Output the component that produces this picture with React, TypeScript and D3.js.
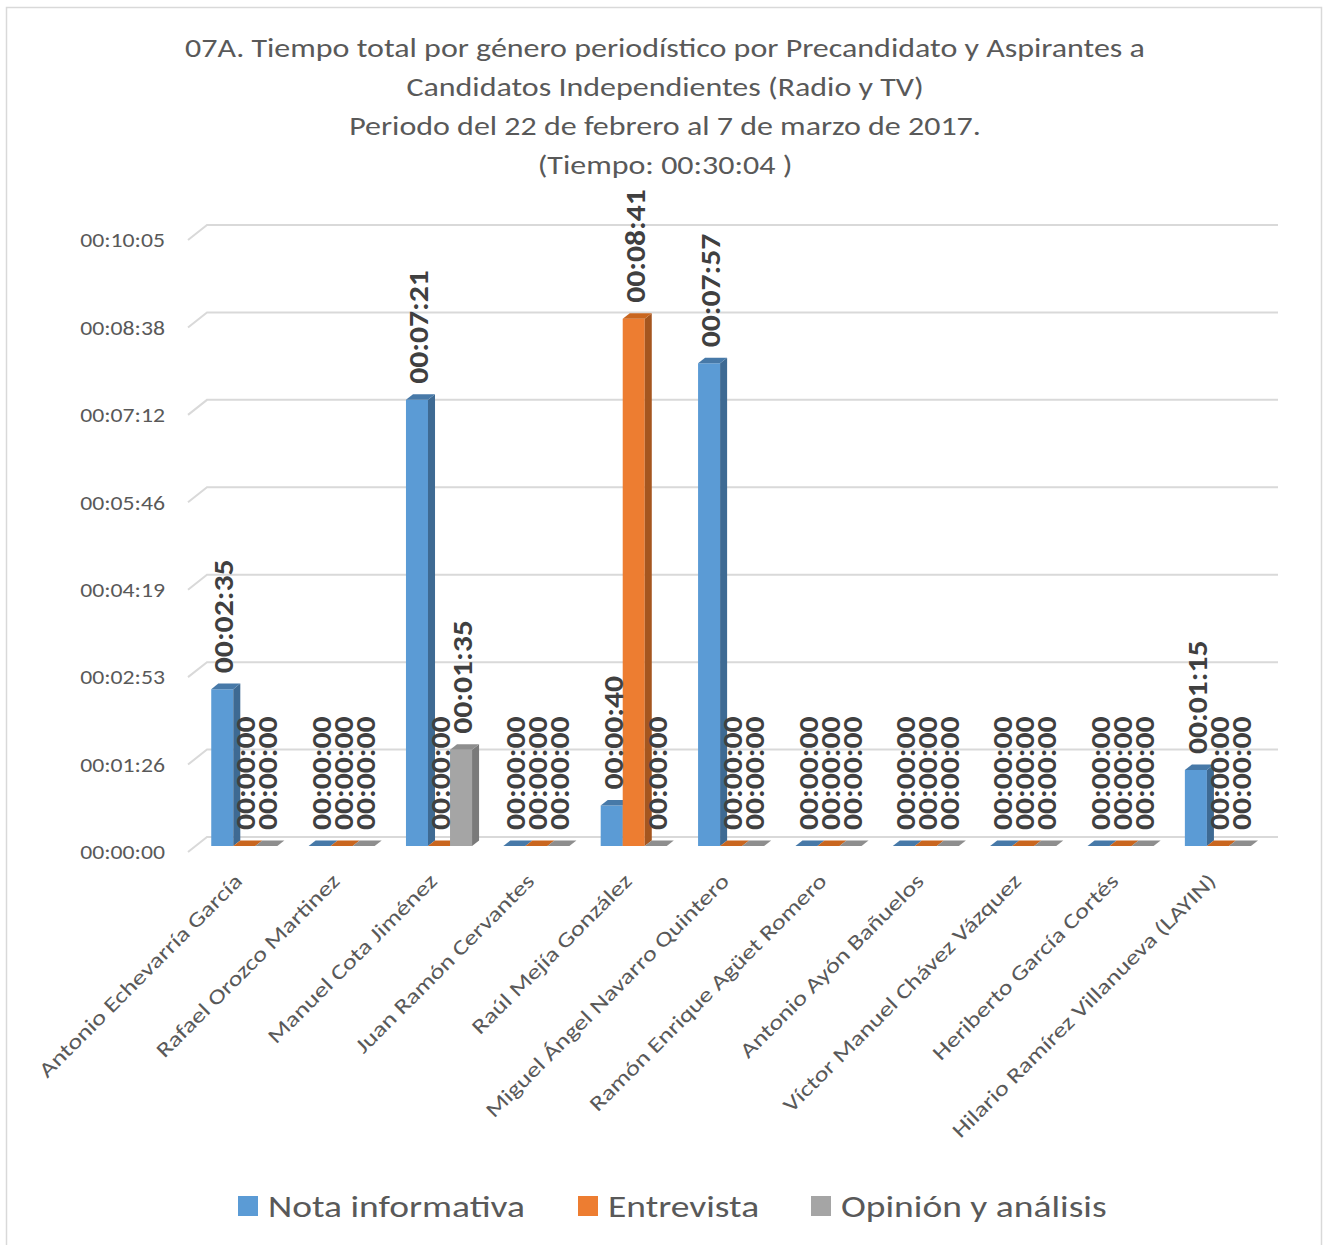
import React from "react";
import * as d3 from "d3";

const categories = [
  "Antonio Echevarría García",
  "Rafael Orozco Martinez",
  "Manuel Cota Jiménez",
  "Juan Ramón Cervantes",
  "Raúl Mejía González",
  "Miguel Ángel Navarro Quintero",
  "Ramón Enrique Agüet Romero",
  "Antonio Ayón Bañuelos",
  "Víctor Manuel Chávez Vázquez",
  "Heriberto García Cortés",
  "Hilario Ramírez Villanueva (LAYIN)",
];

// seconds
const notaInformativa = [155, 0, 441, 0, 40, 477, 0, 0, 0, 0, 75];
const entrevista = [0, 0, 0, 0, 521, 0, 0, 0, 0, 0, 0];
const opinionAnalisis = [0, 0, 95, 0, 0, 0, 0, 0, 0, 0, 0];

const seriesNames = ["Nota informativa", "Entrevista", "Opinión y análisis"];
const seriesValues = [notaInformativa, entrevista, opinionAnalisis];

const yTickValues = [0, 86.4, 172.8, 259.2, 345.6, 432, 518.4, 604.8];
const yTickLabels = ["00:00:00", "00:01:26", "00:02:53", "00:04:19", "00:05:46", "00:07:12", "00:08:38", "00:10:05"];

const titleLines = [
  "07A. Tiempo total por género periodístico por Precandidato y Aspirantes a",
  "Candidatos Independientes (Radio y TV)",
  "Periodo del 22 de febrero al 7 de marzo de 2017.",
  "(Tiempo: 00:30:04 )",
];

const FRONT = ["#5B9BD5", "#ED7D31", "#A5A5A5"];
const SIDE = ["#3E6A93", "#A5561F", "#7A7A7A"];
const TOP = ["#4779A8", "#C9661F", "#8E8E8E"];

const FONT = "Carlito, Calibri, Lato, sans-serif";

function fmt(sec: number) {
  const s = Math.round(sec);
  const h = Math.floor(s / 3600);
  const m = Math.floor((s % 3600) / 60);
  const ss = s % 60;
  const p = (n: number) => String(n).padStart(2, "0");
  return `${p(h)}:${p(m)}:${p(ss)}`;
}

export default function App() {
  const W = 1323;
  const H = 1245;
  // 3D geometry
  const x0 = 188; // front-left of floor
  const y0 = 852; // front floor y
  const depthX = 19;
  const depthY = 15;
  const plotW = 1071;
  const f0 = 0.4;
  const f1 = 0.77;

  const yScale = d3.scaleLinear().domain([0, 604.8]).range([0, 612]);
  const xCat = d3.scaleBand<number>().domain(d3.range(categories.length)).range([0, plotW]).padding(0);
  const xSer = d3.scaleBand<number>().domain(d3.range(3)).range([0, xCat.bandwidth()]).paddingInner(0).paddingOuter(0.71);

  const dx = depthX * (f1 - f0);
  const dy = depthY * (f1 - f0);

  const bars: React.ReactNode[] = [];
  const labels: React.ReactNode[] = [];
  categories.forEach((c, i) => {
    seriesValues.forEach((vals, s) => {
      const v = vals[i];
      const bx0 = x0 + depthX * f0 + (xCat(i) as number) + (xSer(s) as number);
      const bx1 = bx0 + xSer.bandwidth();
      const yb = y0 - depthY * f0;
      const yt = yb - yScale(v);
      const front = `M${bx0},${yt}L${bx1},${yt}L${bx1},${yb}L${bx0},${yb}Z`;
      const side = `M${bx1},${yt}L${bx1 + dx},${yt - dy}L${bx1 + dx},${yb - dy}L${bx1},${yb}Z`;
      const top = `M${bx0},${yt}L${bx0 + dx},${yt - dy}L${bx1 + dx},${yt - dy}L${bx1},${yt}Z`;
      bars.push(
        <g key={`b${i}-${s}`}>
          {v > 0 && <path d={front} fill={FRONT[s]} />}
          {v > 0 && <path d={side} fill={SIDE[s]} />}
          <path d={top} fill={TOP[s]} />
        </g>
      );
      const cx = (bx0 + bx1) / 2 + 1;
      labels.push(
        <text
          key={`l${i}-${s}`}
          transform={`translate(${cx},${yt - 16}) rotate(-90) scale(1.13,1)`}
          dy="0.36em"
          fontFamily={FONT}
          fontWeight="bold"
          fontSize={28}
          fill="#404040"
        >
          {fmt(v)}
        </text>
      );
    });
  });

  return (
    <svg width={W} height={H} style={{ position: "absolute", left: 0, top: 0, background: "#fff" }}>
      <rect x={0} y={0} width={W} height={H} fill="#fff" />
      <rect x={6.5} y={7.5} width={1315} height={1260} fill="none" stroke="#d9d9d9" strokeWidth={1.5} />
      {/* title */}
      {titleLines.map((t, k) => (
        <text
          key={k}
          transform={`translate(665,${57 + k * 39}) scale(1.23,1)`}
          textAnchor="middle"
          fontFamily={FONT}
          fontSize={26}
          fill="#595959"
        >
          {t}
        </text>
      ))}
      {/* gridlines */}
      {yTickValues.map((v, k) => {
        const yf = y0 - yScale(v);
        return (
          <g key={`g${k}`}>
            <path
              d={`M${x0},${yf}L${x0 + depthX},${yf - depthY}L${x0 + depthX + plotW},${yf - depthY}`}
              fill="none"
              stroke="#d9d9d9"
              strokeWidth={2}
            />
            <text
              transform={`translate(165,${yf}) scale(1.13,1)`}
              dy="0.35em"
              textAnchor="end"
              fontFamily={FONT}
              fontSize={21}
              fill="#595959"
            >
              {yTickLabels[k]}
            </text>
          </g>
        );
      })}
      {bars}
      {labels}
      {/* category labels */}
      {categories.map((c, i) => {
        const cx = x0 + depthX * 0.5 + (xCat(i) as number) + xCat.bandwidth() / 2 - 13;
        return (
          <text
            key={`c${i}`}
            transform={`translate(${cx},${872}) rotate(-45) scale(1.26,1)`}
            textAnchor="end"
            dy="0.7em"
            fontFamily={FONT}
            fontSize={21}
            fill="#595959"
          >
            {c}
          </text>
        );
      })}
      {/* legend */}
      {(() => {
        const items = [238, 578, 811];
        return seriesNames.map((n, s) => (
          <g key={`lg${s}`}>
            <rect x={items[s]} y={1196} width={20} height={20} fill={FRONT[s]} />
            <text
              transform={`translate(${items[s] + 30},1206) scale(1.21,1)`}
              dy="0.36em"
              fontFamily={FONT}
              fontSize={31}
              fill="#595959"
            >
              {n}
            </text>
          </g>
        ));
      })()}
    </svg>
  );
}
